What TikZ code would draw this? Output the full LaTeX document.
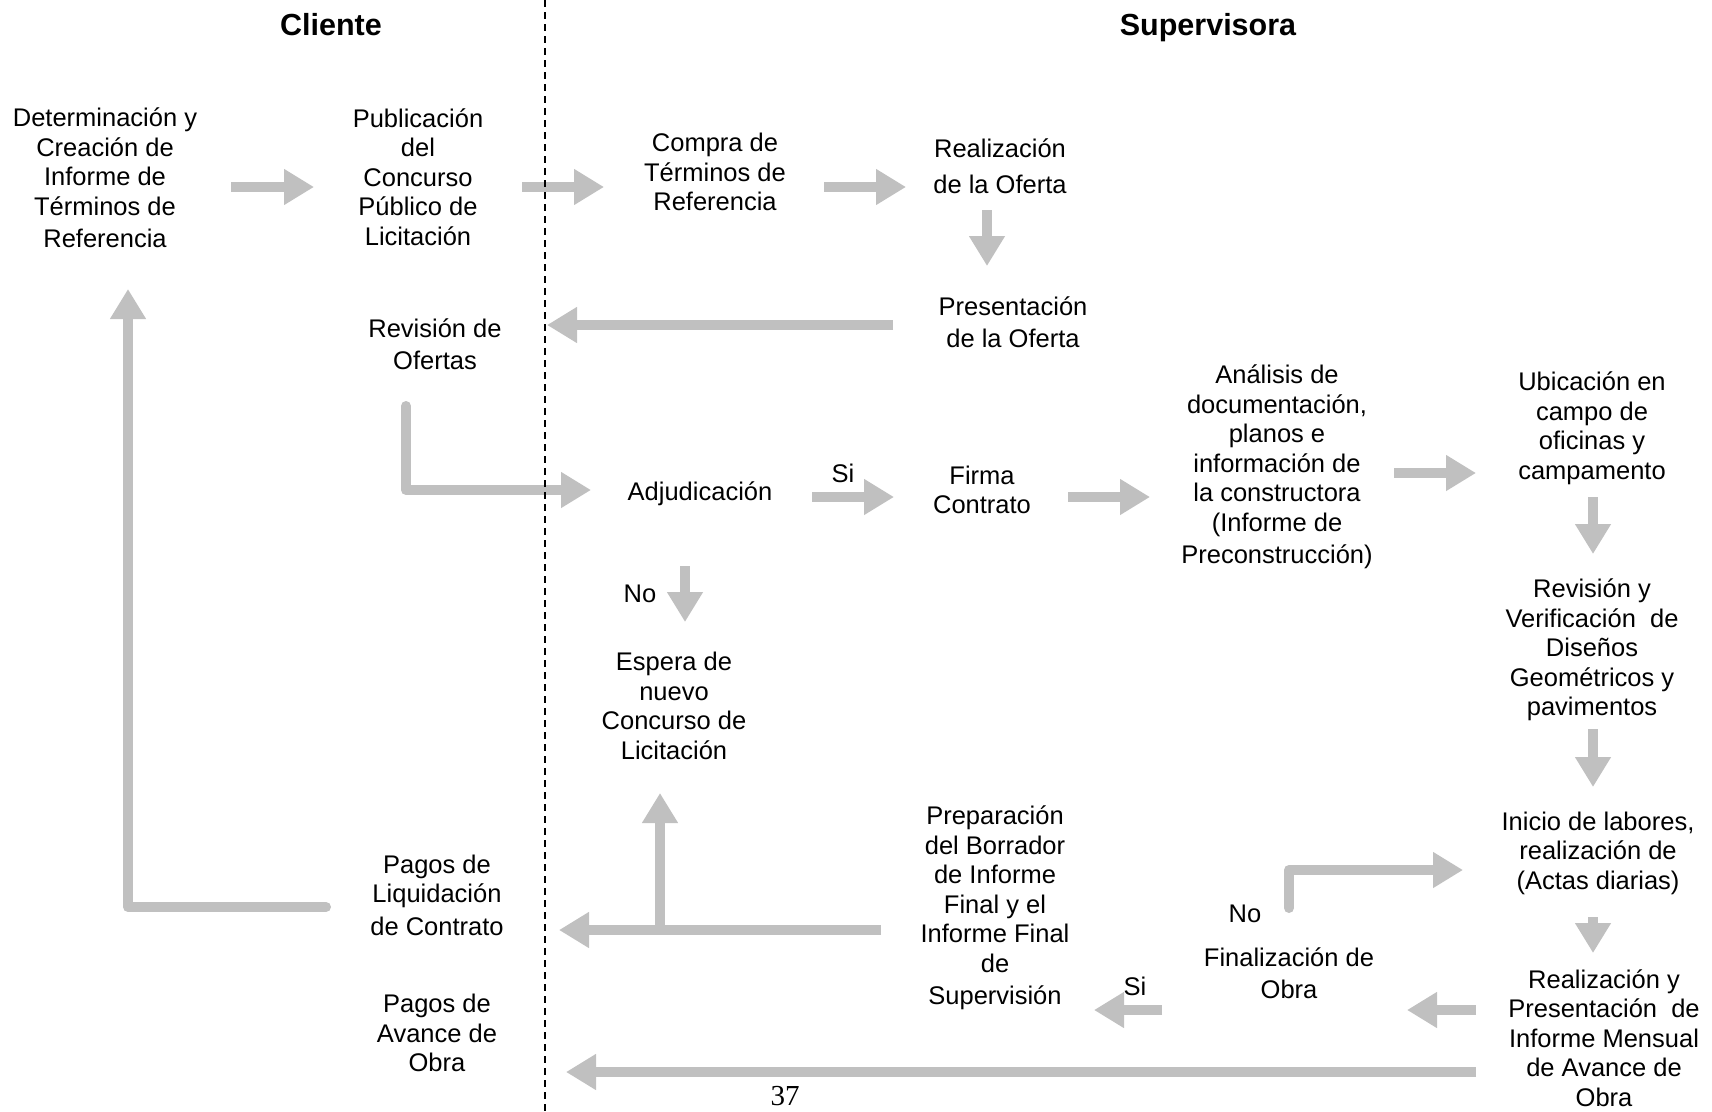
\documentclass[tikz,border=0pt]{standalone}
\usepackage{fontspec}
\setmainfont{Liberation Sans}
\newfontfamily\pagefont{Liberation Serif}
\usetikzlibrary{arrows.meta}
\definecolor{arrowgray}{RGB}{192,192,192}
\begin{document}
\begin{tikzpicture}[x=1pt,y=-1pt,
  txt/.style={align=center,inner sep=0pt,font=\fontsize{25.5}{29.5}\selectfont},
  head/.style={inner sep=0pt,anchor=base,font=\fontsize{30.5}{34}\selectfont\bfseries},
  flow/.style={draw=arrowgray,line width=10pt,-{Triangle[length=30pt,width=34pt]}},
  elbow/.style={flow,line cap=round,line join=round},
  divider/.style={draw=black,line width=1.2pt,dash pattern=on 7pt off 5pt}]
\useasboundingbox[fill=white] (0,0) rectangle (1712,1111);

% lane headers
\node[head] (cli) at (331,35) {Cliente};
\node[head] (sup) at (1208,35) {Supervisora};

% process steps
\node[txt] (det) at (105,178) {Determinación y\\Creación de\\Informe de\\Términos de\\[3pt]Referencia};
\node[txt] (pub) at (418,177) {Publicación\\del\\Concurso\\Público de\\Licitación};
\node[txt] (compra) at (715,172) {Compra de\\Términos de\\Referencia};
\node[txt] (realof) at (1000,166) {Realización\\[6pt]de la Oferta};
\node[txt] (presof) at (1013,322) {Presentación\\[2pt]de la Oferta};
\node[txt] (revof) at (435,344) {Revisión de\\[3pt]Ofertas};
\node[txt] (adj) at (700,494) {Adjudicación};
\node[txt] (firma) at (982,490) {Firma\\Contrato};
\node[txt] (anal) at (1277,467) {Análisis de\\documentación,\\planos e\\información de\\la constructora\\(Informe de\\[3pt]Preconstrucción)};
\node[txt] (ubic) at (1592,428) {Ubicación en\\campo de\\oficinas y\\campamento};
\node[txt] (revver) at (1592,650) {Revisión y\\Verificación\ \ de\\Diseños\\Geométricos y\\pavimentos};
\node[txt] (inicio) at (1598,853) {Inicio de labores,\\realización de\\(Actas diarias)};
\node[txt] (realinf) at (1604,1038) {Realización y\\Presentación\ \ de\\Informe Mensual\\de Avance de\\Obra};
\node[txt] (final) at (1289,973) {Finalización de\\[3pt]Obra};
\node[txt] (prep) at (995,908) {Preparación\\del Borrador\\de Informe\\Final y el\\Informe Final\\de\\[3pt]Supervisión};
\node[txt] (espera) at (674,706) {Espera de\\nuevo\\Concurso de\\Licitación};
\node[txt] (pagliq) at (437,895) {Pagos de\\Liquidación\\[3pt]de Contrato};
\node[txt] (pagav) at (437,1033) {Pagos de\\Avance de\\Obra};

% decision labels
\node[txt] (si1) at (843,473) {Si};
\node[txt] (no1) at (640,594) {No};
\node[txt] (no2) at (1245,914) {No};
\node[txt] (si2) at (1135,986) {Si};

% page number
\node[inner sep=0pt,font=\fontsize{29}{32}\pagefont] (pagenum) at (785,1096) {37};

% arrow end points
\coordinate (a1s) at (231,187);  \coordinate (a1e) at (314,187);
\coordinate (a2s) at (522,187);  \coordinate (a2e) at (604,187);
\coordinate (a3s) at (824,187);  \coordinate (a3e) at (906,187);
\coordinate (a4s) at (987,210);  \coordinate (a4e) at (987,266);
\coordinate (a5s) at (893,325);  \coordinate (a5e) at (547,325);
\coordinate (a6s) at (406,406);  \coordinate (a6c) at (406,490);  \coordinate (a6e) at (591,490);
\coordinate (a7s) at (812,497);  \coordinate (a7e) at (894,497);
\coordinate (a8s) at (685,566);  \coordinate (a8e) at (685,622);
\coordinate (a9s) at (1068,497); \coordinate (a9e) at (1150,497);
\coordinate (a10s) at (1394,473); \coordinate (a10e) at (1476,473);
\coordinate (a11s) at (1593,497); \coordinate (a11e) at (1593,554);
\coordinate (a12s) at (1593,729); \coordinate (a12e) at (1593,787);
\coordinate (a13s) at (1593,917); \coordinate (a13e) at (1593,953);
\coordinate (a14s) at (1476,1010); \coordinate (a14e) at (1407,1010);
\coordinate (a15s) at (1162,1010); \coordinate (a15e) at (1094,1010);
\coordinate (a16s) at (1289,908); \coordinate (a16c) at (1289,870); \coordinate (a16e) at (1463,870);
\coordinate (a17s) at (881,930);  \coordinate (a17e) at (559,930);
\coordinate (a18s) at (660,930);  \coordinate (a18e) at (660,793);
\coordinate (a19s) at (326,907);  \coordinate (a19c) at (128,907);  \coordinate (a19e) at (128,289);
\coordinate (a20s) at (1476,1072); \coordinate (a20e) at (566,1072);

% connectors
\draw[flow] (a1s) -- (a1e);
\draw[flow] (a2s) -- (a2e);
\draw[flow] (a3s) -- (a3e);
\draw[flow] (a4s) -- (a4e);
\draw[flow] (a5s) -- (a5e);
\draw[elbow] (a6s) -- (a6c) -- (a6e);
\draw[flow] (a7s) -- (a7e);
\draw[flow] (a8s) -- (a8e);
\draw[flow] (a9s) -- (a9e);
\draw[flow] (a10s) -- (a10e);
\draw[flow] (a11s) -- (a11e);
\draw[flow] (a12s) -- (a12e);
\draw[flow] (a13s) -- (a13e);
\draw[flow] (a14s) -- (a14e);
\draw[flow] (a15s) -- (a15e);
\draw[elbow] (a16s) -- (a16c) -- (a16e);
\draw[flow] (a17s) -- (a17e);
\draw[flow] (a18s) -- (a18e);
\draw[elbow] (a19s) -- (a19c) -- (a19e);
\draw[flow] (a20s) -- (a20e);

% lane divider
\coordinate (laneTop) at (545,0);
\coordinate (laneBot) at (545,1111);
\draw[divider] (laneTop) -- (laneBot);
\end{tikzpicture}
\end{document}
